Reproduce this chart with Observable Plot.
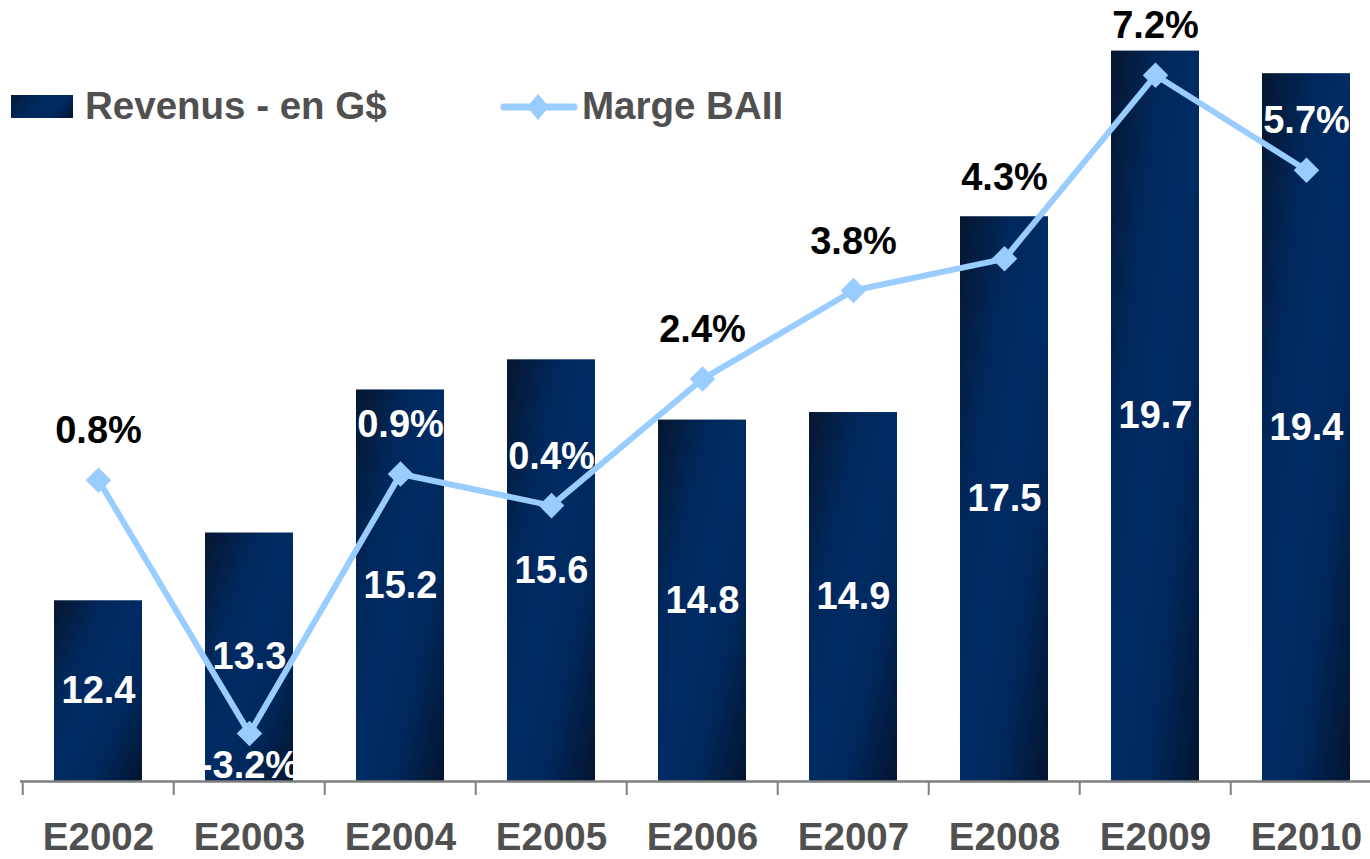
<!DOCTYPE html>
<html><head><meta charset="utf-8">
<script src="https://cdn.jsdelivr.net/npm/d3@7"></script>
<script src="https://cdn.jsdelivr.net/npm/@observablehq/plot@0.6"></script>
<style>
html,body{margin:0;padding:0;background:#fff;}
body{font-family:"Liberation Sans",Arial,sans-serif;}
#wrap{position:relative;width:1370px;height:859px;overflow:hidden;}
#legend{position:absolute;left:0;top:80px;height:52px;font-weight:bold;font-size:38.5px;color:#505050;}
.lg{position:absolute;top:0;white-space:nowrap;line-height:52px;}
</style>
</head><body>
<div id="wrap"><div id="chart"></div>
<div id="legend">
  <div class="lg" style="left:11px;top:15px;width:62px;height:23px;background:linear-gradient(135deg,#041a3c 0%,#002a60 45%,#002a60 70%,#031530 100%);"></div>
  <div class="lg" style="left:85px;">Revenus - en G$</div>
  <svg class="lg" style="left:500px;top:10px;" width="78" height="34"><line x1="4" y1="17" x2="74" y2="17" stroke="#99ccff" stroke-width="7" stroke-linecap="round"/><path d="M38,4 L49,17 L38,30 L27,17Z" fill="#99ccff"/></svg>
  <div class="lg" style="left:582px;">Marge BAII</div>
</div>
</div>
<script>
const categories = ["E2002","E2003","E2004","E2005","E2006","E2007","E2008","E2009","E2010"];
const revenues = [12.4, 13.3, 15.2, 15.6, 14.8, 14.9, 17.5, 19.7, 19.4];
const margins = [0.8, -3.2, 0.9, 0.4, 2.4, 3.8, 4.3, 7.2, 5.7];

// secondary axis (margin %) mapped onto the revenue axis
const marginToRev = d3.scaleLinear().domain([-3.96, 7.94]).range([10, 20]);

const data = categories.map((c, i) => ({
  cat: c, rev: revenues[i], m: margins[i], my: marginToRev(margins[i])
}));

const xRange = [20, 1384];
const yRange = [781, 28];
const step = (xRange[1] - xRange[0]) / categories.length;
const font = "Liberation Sans, Arial, sans-serif";
const FS = 38;
const labelUp = 49, labelDown = 32, clearTop = 39, halfText = 14;
const pxPerUnit = (yRange[0] - yRange[1]) / 10;
const toPx = v => yRange[0] - (v - 10) * pxPerUnit;

// label placement: above the point; if it would sit on the bar top edge, lift it clear of the bar
data.forEach(d => {
  const py = toPx(d.my), top = toPx(d.rev);
  let ly;
  if (d.m < 0) ly = py + labelDown;
  else {
    ly = py - labelUp;
    if (top > ly - halfText && top < ly + halfText) ly = top - clearTop;
  }
  d.lyPx = ly;
  d.ly = 10 + (yRange[0] - ly) / pxPerUnit;
  d.inside = ly > top;
});

const chart = Plot.plot({
  width: 1370, height: 859,
  marginLeft: 20, marginRight: 0, marginTop: 28, marginBottom: 859 - 781,
  style: {fontFamily: font, background: "transparent", overflow: "visible"},
  x: {domain: categories, range: xRange, paddingInner: 0.42, paddingOuter: 0.21, label: null},
  y: {domain: [10, 20], range: yRange, axis: null},
  marks: [
    () => {
      const ns = "http://www.w3.org/2000/svg";
      const g = document.createElementNS(ns, "defs");
      g.innerHTML = `<linearGradient id="barGrad" x1="0" y1="0" x2="1" y2="1">
        <stop offset="0" stop-color="#061630"/>
        <stop offset="0.3" stop-color="#00285c"/>
        <stop offset="0.5" stop-color="#002b63"/>
        <stop offset="0.7" stop-color="#00285c"/>
        <stop offset="1" stop-color="#031430"/>
      </linearGradient>`;
      return g;
    },
    Plot.barY(data, {x: "cat", y1: 10, y2: "rev", fill: "url(#barGrad)"}),
    Plot.axisX({tickSize: 14, dx: -step / 2, text: null, stroke: "#7f7f7f", strokeWidth: 2, label: null}),
    Plot.ruleY([10], {stroke: "#7f7f7f", strokeWidth: 2.5}),
    Plot.axisX({tickSize: 0, tickPadding: 41, fontSize: 38.5, fontWeight: "bold", fill: "#505050", color: "#505050", label: null}),
    Plot.text(data, {x: "cat", y: d => (10 + d.rev) / 2, text: d => d.rev.toFixed(1),
      fill: "white", fontSize: FS, fontWeight: "bold"}),
    Plot.line(data, {x: "cat", y: "my", stroke: "#99ccff", strokeWidth: 6}),
    Plot.dot(data, {x: "cat", y: "my", symbol: "diamond2", r: 11.5, fill: "#99ccff", stroke: "none"}),
    Plot.text(data, {x: "cat", y: "ly", text: d => d.m.toFixed(1) + "%",
      fill: d => d.inside ? "white" : "black", fontSize: FS, fontWeight: "bold"})
  ]
});
document.getElementById("chart").appendChild(chart);
</script>
</body></html>
